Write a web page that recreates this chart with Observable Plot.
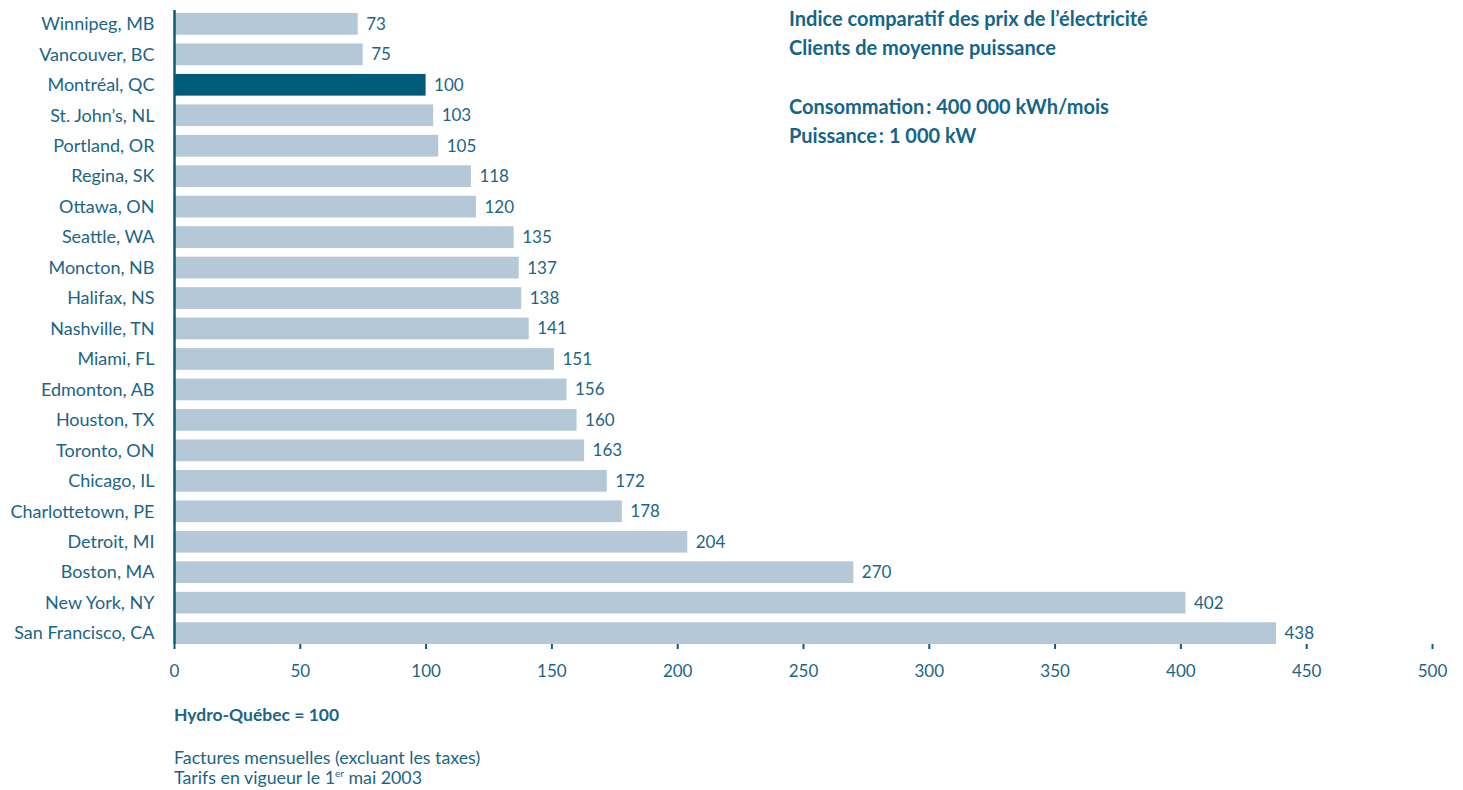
<!DOCTYPE html>
<html>
<head>
<meta charset="utf-8">
<script src="https://cdn.jsdelivr.net/npm/d3@7"></script>
<script src="https://cdn.jsdelivr.net/npm/@observablehq/plot@0.6"></script>
<style>
  html, body { margin: 0; padding: 0; background: #fff; }
  #wrap { position: relative; width: 1463px; height: 790px; font-family: Lato, sans-serif; color: #1b6585; }
  #title { position: absolute; left: 789px; top: 4px; font-weight: bold; font-size: 20px; line-height: 29px; color: #13658a; }
  #title .c { margin-left: 2px; }
  #notes { position: absolute; left: 174px; top: 705px; font-size: 17.8px; line-height: 20.5px; color: #1b6585; }
  #notes .b { font-weight: bold; font-size: 17.5px; margin-bottom: 21px; }
  sup { font-size: 10px; vertical-align: 7px; line-height: 0; }
</style>
</head>
<body>
<div id="wrap">
  <div id="chart"></div>
  <div id="title">
    <div>Indice comparatif des prix de l’électricité</div>
    <div>Clients de moyenne puissance</div>
    <div style="height:30px"></div>
    <div>Consommation<span class="c">:</span> 400 000 kWh/mois</div>
    <div>Puissance<span class="c">:</span> 1 000 kW</div>
  </div>
  <div id="notes">
    <div class="b">Hydro-Québec = 100</div>
    <div>Factures mensuelles (excluant les taxes)</div>
    <div>Tarifs en vigueur le 1<sup>er</sup> mai 2003</div>
  </div>
</div>
<script>
const cities = ["Winnipeg, MB","Vancouver, BC","Montréal, QC","St. John’s, NL","Portland, OR","Regina, SK","Ottawa, ON","Seattle, WA","Moncton, NB","Halifax, NS","Nashville, TN","Miami, FL","Edmonton, AB","Houston, TX","Toronto, ON","Chicago, IL","Charlottetown, PE","Detroit, MI","Boston, MA","New York, NY","San Francisco, CA"];
const values = [73,75,100,103,105,118,120,135,137,138,141,151,156,160,163,172,178,204,270,402,438];
const highlight = "Montréal, QC";
const xTicks = [0,50,100,150,200,250,300,350,400,450,500];

const data = cities.map((c, i) => ({city: c, value: values[i], hl: c === highlight}));
const teal = "#0b5c7c";
const textColor = "#1b6585";

const chart = Plot.plot({
  width: 1463,
  height: 690,
  marginLeft: 174,
  marginRight: 31,
  marginTop: 13,
  marginBottom: 46,
  style: {fontFamily: "Lato, sans-serif", fontSize: "17px", color: textColor, background: "white"},
  x: {domain: [0, 500], ticks: xTicks, label: null},
  y: {domain: cities, paddingInner: 0.287, paddingOuter: 0, round: false, label: null},
  marks: [
    Plot.barX(data, {y: "city", x: "value", fill: d => d.hl ? "#005c7a" : "#b4c8d8"}),
    Plot.text(data, {y: "city", x: "value", text: d => String(d.value), textAnchor: "start", dx: 8, fill: textColor, fontSize: 17}),
    Plot.axisY({tickSize: 0, tickPadding: 20, fontSize: 18, fill: textColor}),
    Plot.axisX({ticks: xTicks, tickSize: 5, tickPadding: 15, fontSize: 17, stroke: teal, strokeWidth: 2, fill: textColor}),
    Plot.ruleY([0], {frameAnchor: "bottom", stroke: teal, strokeWidth: 2.5}),
    Plot.ruleX([0], {stroke: teal, strokeWidth: 2.5, insetTop: -3})
  ]
});
document.getElementById("chart").appendChild(chart);
</script>
</body>
</html>
